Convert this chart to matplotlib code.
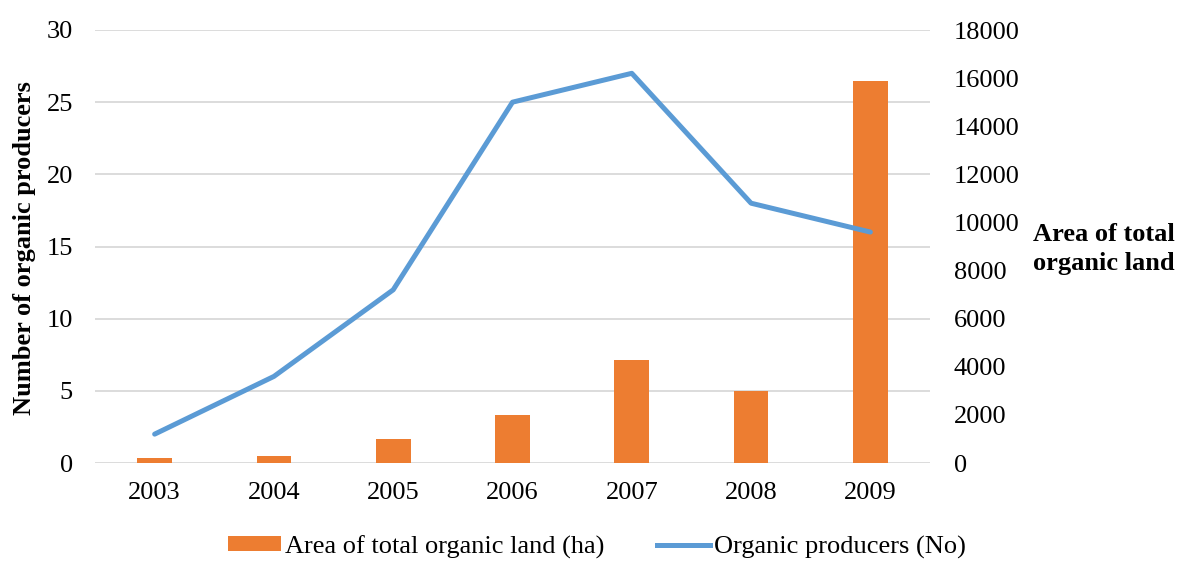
import matplotlib
matplotlib.use("Agg")
import matplotlib.pyplot as plt
from matplotlib.patches import Patch
from matplotlib.lines import Line2D

years = ["2003", "2004", "2005", "2006", "2007", "2008", "2009"]
producers = [2, 6, 12, 25, 27, 18, 16]                   # Organic producers (No)
area_ha = [200, 300, 1000, 2000, 4300, 3000, 15900]      # Area of total organic land (ha)

left_ticks = [0, 5, 10, 15, 20, 25, 30]
right_ticks = [0, 2000, 4000, 6000, 8000, 10000, 12000, 14000, 16000, 18000]

BAR_COLOR = "#ED7D31"
LINE_COLOR = "#5B9BD5"
GRID_COLOR = "#D9D9D9"
FS = 19

plt.rcParams["font.family"] = ["Liberation Serif", "DejaVu Serif"]

fig = plt.figure(figsize=(11.77, 5.61), dpi=100)
ax = fig.add_axes([95 / 1177, 1 - 463 / 561, (930 - 95) / 1177, (463 - 30) / 561])
ax2 = ax.twinx()

x = list(range(len(years)))

# bars on the secondary (area) axis, drawn beneath the line
ax2.bar(x, area_ha, width=0.29, color=BAR_COLOR, zorder=2)
ax2.set_ylim(0, 18000)
ax2.set_yticks(right_ticks)
ax2.set_yticklabels([str(t) for t in right_ticks], fontsize=FS)

ax.set_zorder(ax2.get_zorder() + 1)
ax.patch.set_visible(False)
ax.plot(x, producers, color=LINE_COLOR, linewidth=3.6, solid_capstyle="round", zorder=3)
ax.set_ylim(0, 30)
ax.set_yticks(left_ticks)
ax.set_yticklabels([str(t) for t in left_ticks], fontsize=FS)
ax.set_xlim(-0.5, len(years) - 0.5)
ax.set_xticks(x)
ax.set_xticklabels(years, fontsize=FS)

# gridlines follow the primary axis ticks and sit behind the bars
for t in left_ticks:
    ax2.axhline(t * 600, color=GRID_COLOR, linewidth=1.3, zorder=0)

for a in (ax, ax2):
    for s in a.spines.values():
        s.set_visible(False)
    a.tick_params(length=0)
ax.tick_params(axis="y", pad=16)
ax.tick_params(axis="x", pad=14)
ax2.tick_params(axis="y", pad=17)

fig.text(25 / 1177, 1 - 248 / 561, "Number of organic producers", rotation=90,
         ha="center", va="center", fontsize=FS, fontweight="bold")
fig.text(1033 / 1177, 1 - 249 / 561, "Area of total\norganic land",
         ha="left", va="center", fontsize=FS, fontweight="bold", linespacing=1.35)

handles = [
    Patch(facecolor=BAR_COLOR, edgecolor="none"),
    Line2D([0], [0], color=LINE_COLOR, linewidth=3.6),
]
labels = ["Area of total organic land (ha)", "Organic producers (No)"]
fig.legend(handles, labels, loc="center", bbox_to_anchor=(597 / 1177, 1 - 547 / 561),
           ncol=2, frameon=False, fontsize=FS, handlelength=2.0, handleheight=0.5,
           handletextpad=0.15, columnspacing=2.0, borderpad=0)

fig.savefig("out.png", dpi=100)
